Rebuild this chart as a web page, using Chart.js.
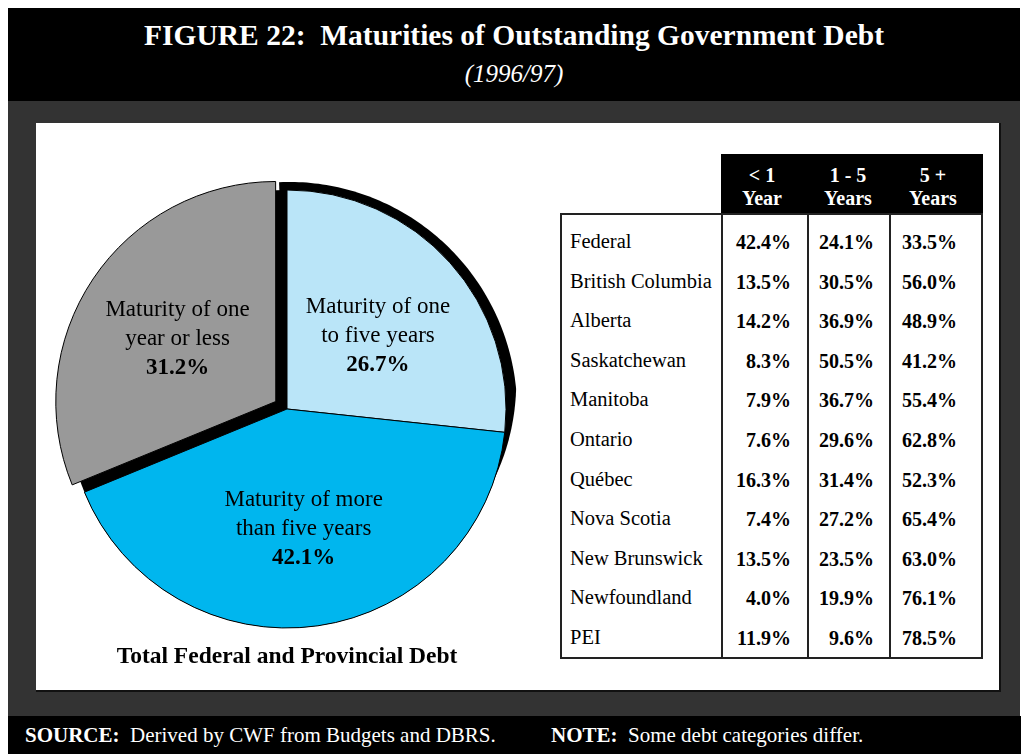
<!DOCTYPE html>
<html>
<head>
<meta charset="utf-8">
<script src="https://cdn.jsdelivr.net/npm/chart.js@4.4.0/dist/chart.umd.min.js"></script>
<style>
  body {
    margin: 0;
    width: 1021px;
    height: 754px;
    position: relative;
    overflow: hidden;
    background: #fff;
    font-family: "Liberation Serif", "Times New Roman", serif;
    color: #000;
  }
  .abs { position: absolute; }
  #head { left: 8px; top: 8px; width: 1012px; height: 93px; background: #000; color: #fff; }
  #title { left: 0; width: 100%; top: 11px; text-align: center; font-size: 29.5px; font-weight: bold; }
  #subtitle { left: 0; width: 100%; top: 52px; text-align: center; font-size: 25px; font-style: italic; }
  #backdrop { left: 8px; top: 101px; width: 1012px; height: 615px; background: #333; }
  #panel { left: 36px; top: 123px; width: 963px; height: 567px; background: #fff; border-right: 2px solid #111; border-bottom: 2px solid #111; }
  #pie { left: 37px; top: 159px; width: 500px; height: 500px; }
  #pieTitle { left: 37px; width: 500px; top: 642px; text-align: center; font-size: 23.5px; font-weight: bold; }
  #foot { left: 8px; top: 716px; width: 1013px; height: 38px; background: #000; color: #fff; font-size: 21px; }
  #foot div { top: 7px; white-space: nowrap; }
  #table { left: 560px; top: 154px; width: 423px; height: 505px; font-size: 20px; }
  .cell { position: absolute; white-space: nowrap; line-height: 1; }
  .name { font-size: 20.5px; }
</style>
</head>
<body>
<div id="head" class="abs">
  <div id="title" class="abs">FIGURE 22:&nbsp; Maturities of Outstanding Government Debt</div>
  <div id="subtitle" class="abs">(1996/97)</div>
</div>
<div id="backdrop" class="abs"></div>
<div id="panel" class="abs"></div>
<div id="pie" class="abs"><canvas id="pieCanvas"></canvas></div>
<div id="pieTitle" class="abs">Total Federal and Provincial Debt</div>
<div id="table" class="abs"></div>
<div id="foot" class="abs">
  <div class="abs" style="left:17px"><b>SOURCE:</b>&nbsp; Derived by CWF from Budgets and DBRS.</div>
  <div class="abs" style="left:543px"><b>NOTE:</b>&nbsp; Some debt categories differ.</div>
</div>

<script>
// pie: share of total federal + provincial debt by maturity
const sliceNames = ["Maturity of one to five years", "Maturity of more than five years", "Maturity of one year or less"];
const sliceLines = [
  ["Maturity of one", "to five years"],
  ["Maturity of more", "than five years"],
  ["Maturity of one", "year or less"]
];
const sliceValues = [26.7, 42.1, 31.2];
const sliceColors = ["#bae5f8", "#00b6ee", "#999999"];
const sliceOffsets = [0, 0, 54];

// table: maturity split per government
const governments = ["Federal", "British Columbia", "Alberta", "Saskatchewan", "Manitoba", "Ontario",
  "Québec", "Nova Scotia", "New Brunswick", "Newfoundland", "PEI"];
const underOneYear = [42.4, 13.5, 14.2, 8.3, 7.9, 7.6, 16.3, 7.4, 13.5, 4.0, 11.9];
const oneToFiveYears = [24.1, 30.5, 36.9, 50.5, 36.7, 29.6, 31.4, 27.2, 23.5, 19.9, 9.6];
const overFiveYears = [33.5, 56.0, 48.9, 41.2, 55.4, 62.8, 52.3, 65.4, 63.0, 76.1, 78.5];
const columnHeads = [["< 1", "Year"], ["1 - 5", "Years"], ["5 +", "Years"]];

// depth of the dark rim along the upper right edge, by angle in degrees
function rimDepth(deg) {
  if (deg <= -5) return 8 + 3 * (deg + 92) / 87;
  return Math.max(0, 11 * (18 - deg) / 23);
}

// black backing under the pie: shows in the gap of the pulled-out slice
// and as a dark rim round the upper right
const pieShadow = {
  id: "pieShadow",
  beforeDatasetsDraw(chart) {
    const arc = chart.getDatasetMeta(0).data[0];
    const { x, y, outerRadius } = arc.getProps(["x", "y", "outerRadius"], true);
    const ctx = chart.ctx;
    ctx.save();
    ctx.fillStyle = "#000";
    ctx.beginPath();
    ctx.arc(x, y, outerRadius, 0, Math.PI * 2);
    ctx.fill();

    ctx.beginPath();
    ctx.moveTo(x, y);
    for (let deg = -92; deg <= 18; deg += 1) {
      const rad = deg * Math.PI / 180;
      const r = outerRadius + rimDepth(deg);
      ctx.lineTo(x + Math.cos(rad) * r, y + Math.sin(rad) * r);
    }
    ctx.closePath();
    ctx.fill();
    ctx.restore();
  }
};

const sliceText = {
  id: "sliceText",
  afterDatasetsDraw(chart) {
    const ctx = chart.ctx;
    chart.getDatasetMeta(0).data.forEach((arc, i) => {
      const { x, y, startAngle, endAngle, outerRadius } =
        arc.getProps(["x", "y", "startAngle", "endAngle", "outerRadius"], true);
      const mid = (startAngle + endAngle) / 2;
      const r = sliceOffsets[i] / 4 + outerRadius * 0.54;
      const cx = x + Math.cos(mid) * r + (i === 0 ? 3 : 0);
      const cy = y + Math.sin(mid) * r + (i === 0 ? 6 : 3);
      ctx.save();
      ctx.fillStyle = "#000";
      ctx.textAlign = "center";
      ctx.textBaseline = "middle";
      ctx.font = "23px 'Liberation Serif'";
      ctx.fillText(sliceLines[i][0], cx, cy - 29);
      ctx.fillText(sliceLines[i][1], cx, cy);
      ctx.font = "bold 23px 'Liberation Serif'";
      ctx.fillText(sliceValues[i].toFixed(1) + "%", cx, cy + 29);
      ctx.restore();
    });
  }
};

new Chart(document.getElementById("pieCanvas"), {
  type: "pie",
  data: {
    labels: sliceNames,
    datasets: [{
      data: sliceValues,
      backgroundColor: sliceColors,
      borderColor: "#000",
      borderWidth: 1,
      offset: sliceOffsets,
      hoverOffset: 0
    }]
  },
  options: {
    responsive: true,
    maintainAspectRatio: false,
    animation: false,
    events: [],
    radius: 219,
    layout: { padding: 0 },
    plugins: {
      legend: { display: false },
      tooltip: { enabled: false }
    }
  },
  plugins: [pieShadow, sliceText]
});

// ---- table ----
const table = document.getElementById("table");

function box(css) {
  const d = document.createElement("div");
  d.style.position = "absolute";
  Object.assign(d.style, css);
  table.appendChild(d);
  return d;
}

function cell(text, x, y, align, bold, color, cls) {
  const d = document.createElement("div");
  d.className = "cell" + (cls ? " " + cls : "");
  d.textContent = text;
  d.style.left = x + "px";
  d.style.top = y + "px";
  const tx = align === "center" ? "-50%" : align === "right" ? "-100%" : "0";
  d.style.transform = `translate(${tx}, -50%)`;
  if (bold) d.style.fontWeight = "bold";
  if (color) d.style.color = color;
  table.appendChild(d);
}

const colLines = [161, 247, 329];
const colCenters = [202, 288, 373];
const colRights = [231, 314, 397];

box({ left: "161px", top: "0px", width: "262px", height: "59px", background: "#000" });
box({ left: "0px", top: "59px", width: "423px", height: "446px", border: "2px solid #222", boxSizing: "border-box" });
colLines.forEach((lx) => {
  box({ left: lx + "px", top: "59px", width: "2px", height: "446px", background: "#222" });
});

columnHeads.forEach((h, c) => {
  cell(h[0], colCenters[c], 21, "center", true, "#fff");
  cell(h[1], colCenters[c], 44, "center", true, "#fff");
});

const columns = [underOneYear, oneToFiveYears, overFiveYears];
governments.forEach((name, i) => {
  const rowY = 87 + i * 39.6;
  cell(name, 10, rowY, "left", false, null, "name");
  columns.forEach((vals, c) => {
    cell(vals[i].toFixed(1) + "%", colRights[c], rowY + 1, "right", true);
  });
});
</script>
</body>
</html>
